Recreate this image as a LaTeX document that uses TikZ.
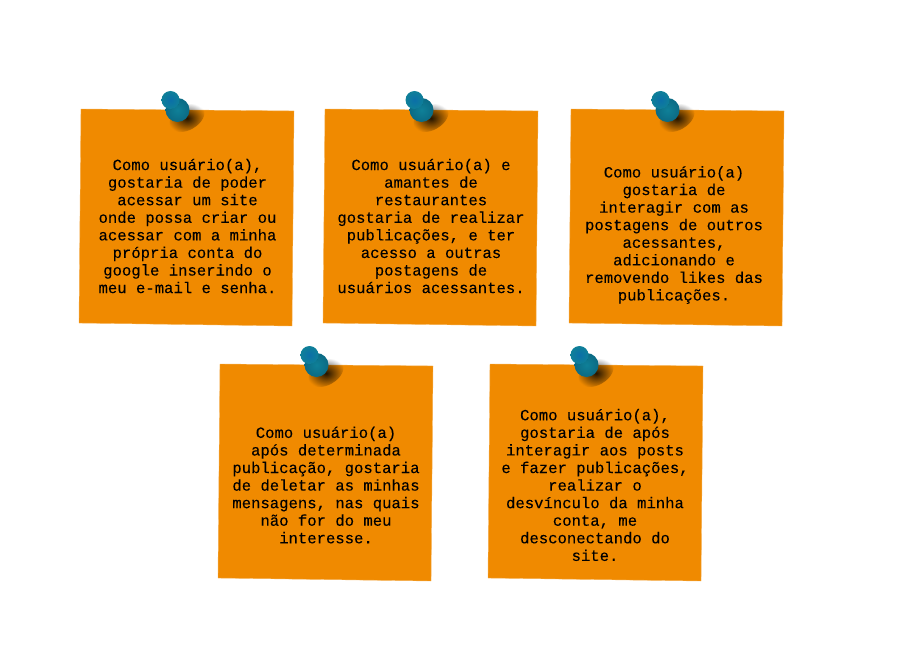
\documentclass[tikz,border=0pt]{standalone}
\usepackage{fontspec}
\setmonofont[FakeBold=0.08]{Liberation Mono}
\usetikzlibrary{fadings, positioning}
\definecolor{noteorange}{HTML}{F08A00}
\definecolor{pinteal}{HTML}{0F8098}
\definecolor{pindark}{HTML}{0B6A84}
\definecolor{pinblue}{HTML}{0B6FA8}
\tikzfading[name=pinfade, inner color=transparent!0, outer color=transparent!100]

\begin{document}
\begin{tikzpicture}[
    x=1pt, y=-1pt,
    notetext/.style={align=center, inner sep=0pt, text=black,
                 font=\ttfamily\fontsize{15.6}{17.57}\selectfont},
    notepaper/.style={fill=noteorange, draw=noteorange!70!white, line width=0.4pt},
    pinshadow/.style={fill=black, fill opacity=0.85, path fading=pinfade},
    pinball/.style={inner color=pinteal, outer color=pindark},
]

\useasboundingbox (0,0) rectangle (907,666);

% notes: corner x / corner y / name
\foreach \x/\y/\n in {81/109/a, 325/109/b, 571/109/c, 220/364/d, 490/364/e}{
  \draw[notepaper] (\x,\y) -- ++(213,2) -- ++(-2,215) -- ++(-213,-3) -- cycle;
  % pin
  \fill[pinshadow, rotate around={30:(\x+106,\y+9)}] (\x+106,\y+9) ellipse (19 and 12);
  \shade[pinball] (\x+96.5,\y+1) circle (12);
  \draw[pindark, line width=9pt] (\x+89.5,\y-9) -- (\x+94,\y-2);
  \shade[inner color=pinblue, outer color=pinteal] (\x+89.5,\y-9) circle (9);
}

\node[notetext] (txta) at (187.5,226) {Como usuário(a),\\gostaria de poder\\acessar um site\\onde possa criar ou\\acessar com a minha\\própria conta do\\google inserindo o\\meu e-mail e senha.};
\node[notetext] (txtb) at (431,226) {Como usuário(a) e\\amantes de\\restaurantes\\gostaria de realizar\\publicações, e ter\\acesso a outras\\postagens de\\usuários acessantes.};
\node[notetext] (txtc) at (674,235) {Como usuário(a)\\gostaria de\\interagir com as\\postagens de outros\\acessantes,\\adicionando e\\removendo likes das\\publicações.};
\node[notetext] (txtd) at (326,485) {Como usuário(a)\\após determinada\\publicação, gostaria\\de deletar as minhas\\mensagens, nas quais\\não for do meu\\interesse.};
\node[notetext] (txte) at (595,485) {Como usuário(a),\\gostaria de após\\interagir aos posts\\e fazer publicações,\\realizar o\\desvínculo da minha\\conta, me\\desconectando do\\site.};

\end{tikzpicture}
\end{document}
